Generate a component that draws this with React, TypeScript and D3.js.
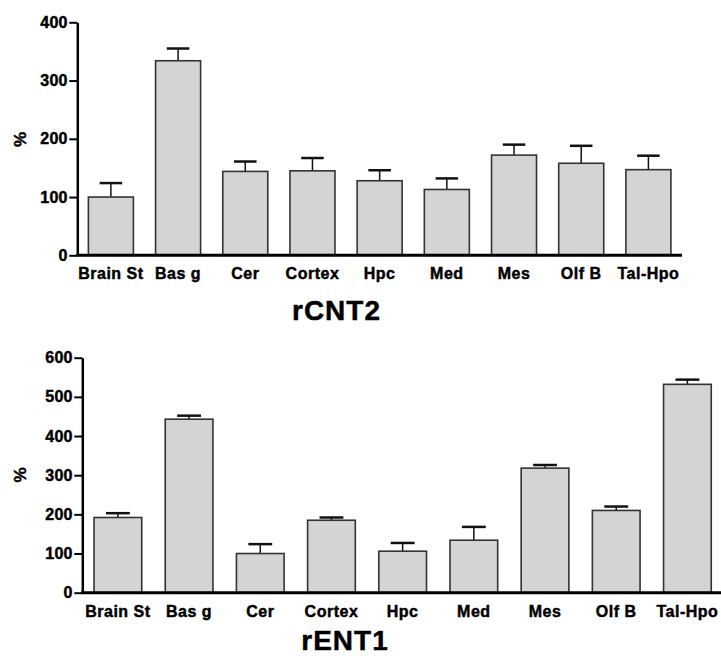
import React, { useRef, useEffect } from 'react';
import * as d3 from 'd3';

const categories = ["Brain St", "Bas g", "Cer", "Cortex", "Hpc", "Med", "Mes", "Olf B", "Tal-Hpo"];

// rCNT2 (top panel)
const cnt2Values = [100, 334, 144, 145, 128, 113, 172, 158, 147];
const cnt2Errors = [24, 21, 17, 22, 18, 19, 18, 30, 24];
const cnt2Ticks = [0, 100, 200, 300, 400];

// rENT1 (bottom panel)
const ent1Values = [192, 443, 100, 185, 106, 134, 318, 210, 532];
const ent1Errors = [11, 9, 24, 7, 21, 34, 8, 10, 12];
const ent1Ticks = [0, 100, 200, 300, 400, 500, 600];

const FONT = "'Liberation Sans', Arial, Helvetica, sans-serif";

type Panel = {
    title: string,
    values: number[],
    errors: number[],
    ticks: number[],
    x0: number, x1: number,
    yBottom: number, yTop: number,
    titleX: number, titleY: number,
    pctY: number,
};

const panels: Panel[] = [
    {
        title: "rCNT2", values: cnt2Values, errors: cnt2Errors, ticks: cnt2Ticks,
        x0: 77.3, x1: 682, yBottom: 255.3, yTop: 22.3,
        titleX: 336.5, titleY: 320, pctY: 139.5,
    },
    {
        title: "rENT1", values: ent1Values, errors: ent1Errors, ticks: ent1Ticks,
        x0: 82.3, x1: 723, yBottom: 592.7, yTop: 357.7,
        titleX: 345, titleY: 650, pctY: 475,
    },
];

// bold text, slightly fattened with a thin stroke like the source figure
const boldText = (sel: any, size: number, spacing: number) => sel
    .attr("fill", "#000")
    .attr("stroke", "#000")
    .attr("stroke-width", 0.45)
    .style("font-family", FONT)
    .style("font-weight", "bold")
    .style("font-size", `${size}px`)
    .style("letter-spacing", `${spacing}px`);

const App = () => {
    const ref = useRef<SVGSVGElement>(null);

    useEffect(() => {
        const svg = d3.select(ref.current);
        svg.selectAll("*").remove();

        panels.forEach((p) => {
            const g = svg.append("g");
            const yMax = p.ticks[p.ticks.length - 1];

            const x = d3.scaleBand<string>()
                .domain(categories)
                .range([p.x0, p.x1])
                .paddingInner(0.33)
                .paddingOuter(0.165);
            const y = d3.scaleLinear().domain([0, yMax]).range([p.yBottom, p.yTop]);

            // error bars (drawn first so the bar outline sits over the stem)
            categories.forEach((c, i) => {
                const cx = x(c)! + x.bandwidth() / 2;
                const top = p.values[i] + p.errors[i];
                g.append("line")
                    .attr("x1", cx).attr("x2", cx)
                    .attr("y1", y(p.values[i])).attr("y2", y(top))
                    .attr("stroke", "#111").attr("stroke-width", 1.5);
                g.append("line")
                    .attr("x1", cx - x.bandwidth() / 4).attr("x2", cx + x.bandwidth() / 4)
                    .attr("y1", y(top)).attr("y2", y(top))
                    .attr("stroke", "#111").attr("stroke-width", 2.5);
            });

            g.selectAll("rect.bar")
                .data(p.values)
                .enter().append("rect")
                .attr("class", "bar")
                .attr("x", (d, i) => x(categories[i])!)
                .attr("width", x.bandwidth())
                .attr("y", d => y(d))
                .attr("height", d => y(0) - y(d))
                .attr("fill", "#d4d4d4")
                .attr("stroke", "#333")
                .attr("stroke-width", 1.6);

            // y axis
            const yAxis = g.append("g")
                .attr("transform", `translate(${p.x0}, 0)`)
                .call(d3.axisLeft(y).tickValues(p.ticks).tickSize(8).tickPadding(1.5).tickSizeOuter(0));
            yAxis.select(".domain").attr("stroke", "#000").attr("stroke-width", 2.5);
            yAxis.selectAll(".tick line").attr("stroke", "#000").attr("stroke-width", 2);
            boldText(yAxis.selectAll(".tick text"), 16, 0.3);

            // x axis
            const xAxis = g.append("g")
                .attr("transform", `translate(0, ${p.yBottom})`)
                .call(d3.axisBottom(x).tickSize(0).tickSizeOuter(0));
            xAxis.select(".domain")
                .attr("d", `M${p.x0 - 1},0H${p.x1}`)
                .attr("stroke", "#000").attr("stroke-width", 3);
            boldText(xAxis.selectAll(".tick text").attr("y", 24).attr("dy", 0), 16, 0.5);

            // % label
            boldText(g.append("text")
                .attr("transform", `translate(26, ${p.pctY}) rotate(-90)`)
                .attr("text-anchor", "middle")
                .text("%"), 17, 0);

            boldText(g.append("text")
                .attr("x", p.titleX).attr("y", p.titleY)
                .attr("text-anchor", "middle")
                .text(p.title), 28, 1);
        });
    }, []);

    return (
        <svg ref={ref} width={721} height={658}
            style={{ position: 'absolute', left: 0, top: 0, background: '#fff', display: 'block' }} />
    );
};

export default App;
